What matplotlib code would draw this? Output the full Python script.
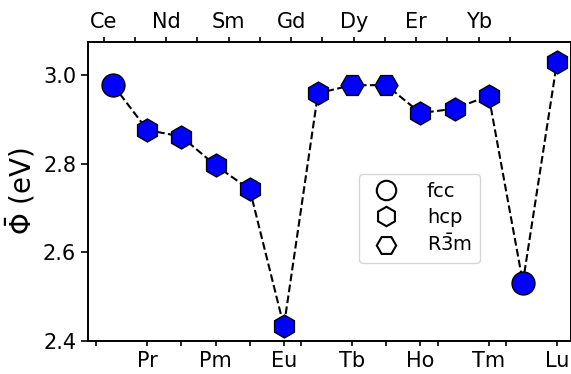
import matplotlib
matplotlib.use("Agg")
import matplotlib.pyplot as plt
from matplotlib.lines import Line2D

# lanthanide series, Ce -> Lu
elements = ["Ce", "Pr", "Nd", "Pm", "Sm", "Eu", "Gd",
            "Tb", "Dy", "Ho", "Er", "Tm", "Yb", "Lu"]
phi = [2.977, 2.876, 2.861, 2.796, 2.742, 2.433, 2.959,
       2.977, 2.977, 2.914, 2.924, 2.953, 2.532, 3.029]
structure = ["fcc", "hcp", "hcp", "hcp", "hcp", "hcp", "hcp",
             "R3m", "R3m", "hcp", "hcp", "hcp", "fcc", "hcp"]

bottom_labels = ["Pr", "Pm", "Eu", "Tb", "Ho", "Tm", "Lu"]
bottom_extra_ticks = [-0.5, 2, 4, 5.5, 8, 9.5, 11.5]
top_labels = [el if i % 2 == 0 else "" for i, el in enumerate(elements)]

markers = {"fcc": "o", "hcp": "h", "R3m": "H"}
legend_names = {"fcc": "fcc", "hcp": "hcp", "R3m": r"R$\bar{3}$m"}

plt.rcParams.update({
    "font.family": "DejaVu Sans",
    "axes.linewidth": 1.2,
})

fig = plt.figure(figsize=(5.71, 3.74), dpi=100)
ax = fig.add_axes([0.154, 0.088, 0.846, 0.8005])

x = list(range(len(elements)))
ax.plot(x, phi, "k--", lw=1.5, zorder=1)
for xi, yi, s in zip(x, phi, structure):
    ax.plot(xi, yi, marker=markers[s], ms=16.5, mfc="blue", mec="k",
            mew=1.0, ls="none", zorder=2)

ax.set_xlim(-0.74, 13.41)
ax.set_ylim(2.4, 3.075)
ax.set_yticks([2.4, 2.6, 2.8, 3.0])
ax.set_ylabel(r"$\bar{\Phi}$ (eV)", fontsize=20)

pos = [elements.index(el) for el in bottom_labels]
ticks = sorted(pos + bottom_extra_ticks)
ax.set_xticks(ticks)
ax.set_xticklabels([elements[int(t)] if t in pos else "" for t in ticks])
ax.tick_params(axis="both", labelsize=15)
ax.tick_params(axis="y", length=5, width=1.2)
ax.tick_params(axis="x", length=3.5, width=1.2)

top = ax.twiny()
top.set_xlim(-0.5, 14.95)
top.set_xticks(range(len(elements)))
top.set_xticklabels(top_labels)
top.tick_params(axis="x", labelsize=15, length=3.5, width=1.2)

handles = [Line2D([], [], marker=markers[k], ls="none", ms=14, mfc="white",
                  mec="k", mew=1.5, label=legend_names[k])
           for k in ["fcc", "hcp", "R3m"]]
ax.legend(handles=handles, loc="upper left", bbox_to_anchor=(0.561, 0.558),
          borderaxespad=0, fontsize=14, handletextpad=1.1,
          labelspacing=0.35)

fig.savefig("out.png", dpi=100)
